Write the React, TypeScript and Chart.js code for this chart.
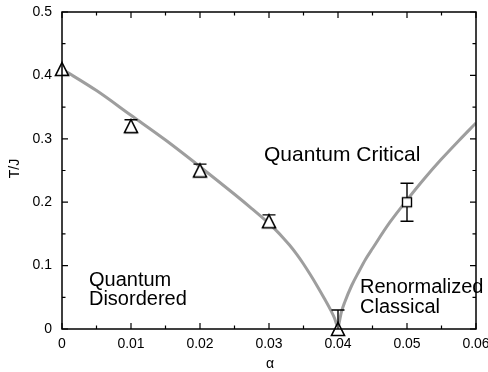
import React, { useEffect, useRef } from "react";
import { Chart, registerables } from "chart.js";
Chart.register(...registerables);

const FONT = '"Liberation Sans", Arial, Helvetica, sans-serif';

// Axis ticks
const xTickValues = [0, 0.01, 0.02, 0.03, 0.04, 0.05, 0.06];
const xTickLabels = ["0", "0.01", "0.02", "0.03", "0.04", "0.05", "0.06"];
const xMinorTicks = [0.005, 0.015, 0.025, 0.035, 0.045, 0.055];
const yTickValues = [0, 0.1, 0.2, 0.3, 0.4, 0.5];
const yTickLabels = ["0", "0.1", "0.2", "0.3", "0.4", "0.5"];
const yMinorTicks = [0.05, 0.15, 0.25, 0.35, 0.45];

// Crossover curves
const leftCurveAlpha = [0, 0.005, 0.01, 0.015, 0.02, 0.025, 0.0275, 0.03, 0.031, 0.032, 0.033, 0.034, 0.035, 0.036, 0.037, 0.038, 0.039, 0.0395, 0.04];
const leftCurveT = [0.41, 0.376, 0.337, 0.298, 0.256, 0.2125, 0.19, 0.1665, 0.156, 0.1445, 0.132, 0.118, 0.1025, 0.0855, 0.0675, 0.0485, 0.0285, 0.017, 0.0];
const rightCurveAlpha = [0.04, 0.0405, 0.041, 0.042, 0.043, 0.044, 0.045, 0.0475, 0.05, 0.0525, 0.055, 0.0575, 0.06];
const rightCurveT = [0.0, 0.027, 0.043, 0.069, 0.09, 0.11, 0.127, 0.168, 0.2035, 0.237, 0.268, 0.297, 0.325];

// Data points with error bars
const triAlpha = [0, 0.01, 0.02, 0.03, 0.04];
const triT = [0.41, 0.32, 0.25, 0.17, 0.0];
const triErr = [0, 0.01, 0.01, 0.01, 0.03];
const sqAlpha = [0.05];
const sqT = [0.2];
const sqErr = [0.03];

// Region labels
const regionTexts = ["Quantum Critical", "Quantum", "Disordered", "Renormalized", "Classical"];
const regionAlpha = [0.02928, 0.00391, 0.00391, 0.04319, 0.04319];
const regionT = [0.265, 0.0686, 0.0371, 0.0568, 0.0252];
const regionFontSize = [21, 20, 20, 20, 20];

const xTitle = "α";
const yTitle = "T/J";

function makeTriangle(): HTMLCanvasElement {
  const c = document.createElement("canvas");
  c.width = 18;
  c.height = 18;
  const g = c.getContext("2d")!;
  const cx = 9, cy = 9, h = 6.5;
  g.beginPath();
  g.moveTo(cx, cy - h);
  g.lineTo(cx + h, cy + h);
  g.lineTo(cx - h, cy + h);
  g.closePath();
  g.fillStyle = "#ffffff";
  g.fill();
  g.lineWidth = 1.6;
  g.strokeStyle = "#000000";
  g.stroke();
  return c;
}

function makeSquare(): HTMLCanvasElement {
  const c = document.createElement("canvas");
  c.width = 14;
  c.height = 14;
  const g = c.getContext("2d")!;
  g.fillStyle = "#ffffff";
  g.fillRect(2.5, 2.5, 9, 9);
  g.lineWidth = 1.4;
  g.strokeStyle = "#000000";
  g.strokeRect(2.5, 2.5, 9, 9);
  return c;
}

const overlayPlugin = {
  id: "overlay",
  beforeDatasetDraw(chart: any, args: any) {
    if (args.index !== 1) return;
    const { ctx, chartArea } = chart;
    const xs = chart.scales.x;
    const ys = chart.scales.y;
    ctx.save();
    ctx.beginPath();
    ctx.rect(chartArea.left - 10, chartArea.top, chartArea.right - chartArea.left + 20, chartArea.bottom - chartArea.top);
    ctx.clip();
    ctx.strokeStyle = "#000";
    ctx.lineWidth = 1.4;
    const drawBar = (a: number, t: number, e: number) => {
      if (e <= 0) return;
      const px = xs.getPixelForValue(a);
      const top = ys.getPixelForValue(t + e);
      const bot = ys.getPixelForValue(t - e);
      ctx.beginPath();
      ctx.moveTo(px, top);
      ctx.lineTo(px, bot);
      ctx.moveTo(px - 6.5, top);
      ctx.lineTo(px + 6.5, top);
      ctx.moveTo(px - 6.5, bot);
      ctx.lineTo(px + 6.5, bot);
      ctx.stroke();
    };
    triAlpha.forEach((a, i) => drawBar(a, triT[i], triErr[i]));
    sqAlpha.forEach((a, i) => drawBar(a, sqT[i], sqErr[i]));
    ctx.restore();
  },
  afterDraw(chart: any) {
    const { ctx, chartArea } = chart;
    const xs = chart.scales.x;
    const ys = chart.scales.y;
    const { left, right, top, bottom } = chartArea;
    ctx.save();
    // region labels
    ctx.fillStyle = "#000";
    ctx.textAlign = "left";
    ctx.textBaseline = "alphabetic";
    regionTexts.forEach((txt, i) => {
      ctx.font = `${regionFontSize[i]}px ${FONT}`;
      ctx.fillText(txt, xs.getPixelForValue(regionAlpha[i]), ys.getPixelForValue(regionT[i]));
    });
    // frame
    ctx.strokeStyle = "#000";
    ctx.lineWidth = 1.5;
    ctx.strokeRect(left, top, right - left, bottom - top);
    // ticks
    ctx.lineWidth = 1.2;
    ctx.beginPath();
    const major = 6, minor = 3.5;
    xTickValues.forEach((v) => {
      const p = xs.getPixelForValue(v);
      ctx.moveTo(p, bottom); ctx.lineTo(p, bottom - major);
      ctx.moveTo(p, top); ctx.lineTo(p, top + major);
    });
    xMinorTicks.forEach((v) => {
      const p = xs.getPixelForValue(v);
      ctx.moveTo(p, bottom); ctx.lineTo(p, bottom - minor);
      ctx.moveTo(p, top); ctx.lineTo(p, top + minor);
    });
    yTickValues.forEach((v) => {
      const p = ys.getPixelForValue(v);
      ctx.moveTo(left, p); ctx.lineTo(left + major, p);
      ctx.moveTo(right, p); ctx.lineTo(right - major, p);
    });
    yMinorTicks.forEach((v) => {
      const p = ys.getPixelForValue(v);
      ctx.moveTo(left, p); ctx.lineTo(left + minor, p);
      ctx.moveTo(right, p); ctx.lineTo(right - minor, p);
    });
    ctx.stroke();
    // axis titles
    ctx.font = `14px ${FONT}`;
    ctx.textAlign = "center";
    ctx.textBaseline = "alphabetic";
    ctx.fillText(xTitle, (left + right) / 2 + 1, 368);
    ctx.translate(19, (top + bottom) / 2 - 2);
    ctx.rotate(-Math.PI / 2);
    ctx.fillText(yTitle, 0, 0);
    ctx.restore();
  },
};

export default function App() {
  const ref = useRef<HTMLCanvasElement | null>(null);
  useEffect(() => {
    if (!ref.current) return;
    const tri = makeTriangle();
    const sq = makeSquare();
    const chart = new Chart(ref.current, {
      type: "scatter",
      data: {
        datasets: [
          {
            label: "tri",
            data: triAlpha.map((a, i) => ({ x: a, y: triT[i] })),
            pointStyle: tri as any,
            pointRadius: 7,
            clip: false as any,
            order: 0,
          },
          {
            label: "sq",
            data: sqAlpha.map((a, i) => ({ x: a, y: sqT[i] })),
            pointStyle: sq as any,
            pointRadius: 7,
            clip: false as any,
            order: 0,
          },
          {
            label: "left",
            data: leftCurveAlpha.map((a, i) => ({ x: a, y: leftCurveT[i] })),
            showLine: true,
            pointRadius: 0,
            borderColor: "#9e9e9e",
            borderWidth: 3,
            cubicInterpolationMode: "monotone",
            order: 1,
          },
          {
            label: "right",
            data: rightCurveAlpha.map((a, i) => ({ x: a, y: rightCurveT[i] })),
            showLine: true,
            pointRadius: 0,
            borderColor: "#9e9e9e",
            borderWidth: 3,
            cubicInterpolationMode: "monotone",
            order: 1,
          },
        ],
      },
      options: {
        responsive: false,
        animation: false,
        events: [],
        layout: { padding: { left: 0, top: 12, right: 12, bottom: 0 } },
        plugins: { legend: { display: false }, tooltip: { enabled: false } },
        scales: {
          x: {
            type: "linear",
            min: 0,
            max: 0.06,
            grid: { display: false, drawTicks: false },
            border: { display: false },
            afterBuildTicks: (s: any) => {
              s.ticks = xTickValues.map((v) => ({ value: v }));
            },
            afterFit: (s: any) => {
              s.height = 43;
              s.paddingLeft = 0;
              s.paddingRight = 0;
            },
            ticks: {
              padding: 7,
              maxRotation: 0,
              autoSkip: false,
              color: "#000",
              font: { family: FONT, size: 14 },
              callback: (_v: any, i: number) => xTickLabels[i],
            },
          },
          y: {
            type: "linear",
            min: 0,
            max: 0.5,
            grid: { display: false, drawTicks: false },
            border: { display: false },
            afterBuildTicks: (s: any) => {
              s.ticks = yTickValues.map((v) => ({ value: v }));
            },
            afterFit: (s: any) => {
              s.width = 62;
              s.paddingTop = 0;
              s.paddingBottom = 0;
            },
            ticks: {
              padding: 10,
              autoSkip: false,
              color: "#000",
              font: { family: FONT, size: 14 },
              callback: (_v: any, i: number) => yTickLabels[i],
            },
          },
        },
      },
      plugins: [overlayPlugin],
    });
    return () => chart.destroy();
  }, []);
  return (
    <div style={{ position: "fixed", left: 0, top: 0, width: 488, height: 372, background: "#fff" }}>
      <canvas ref={ref} width={488} height={372} />
    </div>
  );
}
